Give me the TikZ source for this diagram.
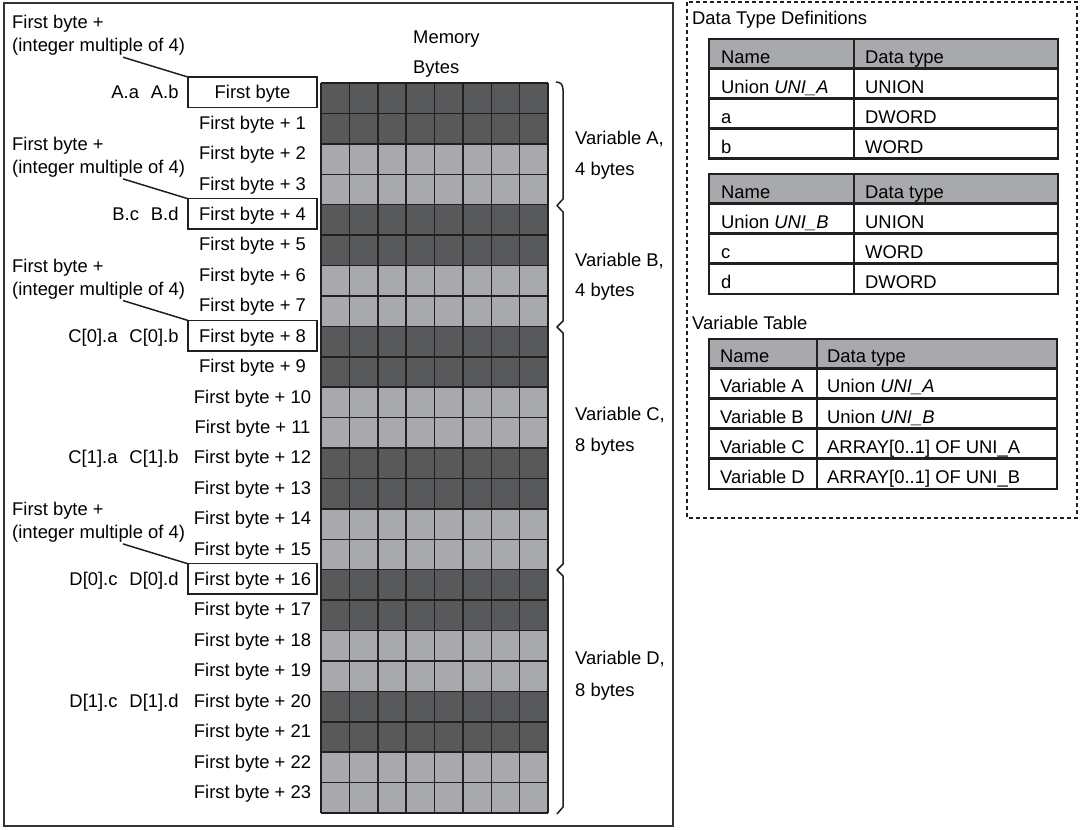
\documentclass[tikz,border=0pt]{standalone}
\usepackage{fontspec}
\setmainfont{Liberation Sans}
\usepackage{tikz}
\usetikzlibrary{calc,positioning}
\definecolor{cellDark}{HTML}{58595B}
\definecolor{cellLight}{HTML}{A7A9AC}
\definecolor{lineK}{HTML}{231F20}
\definecolor{frameC}{HTML}{333333}
\tikzset{
  txt/.style={inner sep=0pt,text height=13.2pt,text depth=0pt,font=\fontsize{18.4}{22}\selectfont},
  lbl/.style={txt,anchor=west},
  rowlbl/.style={txt,minimum width=129pt,minimum height=30pt},
  boxline/.style={draw=lineK,line width=1.5pt},
  gridline/.style={lineK,line width=1.5pt},
  frame/.style={draw=frameC,line width=2pt},
  dashbox/.style={draw=lineK,line width=2pt,dash pattern=on 4pt off 3pt},
  tabline/.style={draw=lineK,line width=2.4pt},
  callout/.style={lineK,line width=1.5pt},
  bracel/.style={lineK,line width=1.5pt,line join=round}
}

\begin{document}
\begin{tikzpicture}[x=1pt,y=-1pt]
\useasboundingbox (0,0) rectangle (1082,830);
\draw[frame] (4,3) rectangle (673,826);
\draw[dashbox] (687,2) rectangle (1077,518);
% memory bytes
\foreach \r in {0,...,23}{
  \pgfmathtruncatemacro{\q}{mod(\r,4)}
  \ifnum\q<2 \def\fc{cellDark}\else\def\fc{cellLight}\fi
  \fill[\fc] (321,{83+30.42*\r}) rectangle (548,{83+30.42*(\r+1)});
}
\foreach \c in {0,...,8} \draw[gridline] ({321+28.375*\c},83) -- ({321+28.375*\c},813);
\foreach \r in {0,...,24} \draw[gridline] (321,{83+30.42*\r}) -- (548,{83+30.42*\r});
\node[lbl] (mem) at (413,37) {Memory};
\node[lbl] (bytes) at (413,67) {Bytes};
% addresses
\foreach \k in {0,...,23}
  \node[rowlbl] (r\k) at (252.5,{92.2+30.42*\k}) {First byte\ifnum\k>0{} + \k\fi};
\foreach \k in {0,4,8,16}{
  \draw[boxline] (r\k.north west) rectangle (r\k.south east);
  \node[lbl] (cf\k) at (12,{92.2+30.42*\k-70}) {First byte +};
  \node[lbl] (cm\k) at (12,{92.2+30.42*\k-47}) {(integer multiple of 4)};
  \coordinate (k\k) at (123,{92.2+30.42*\k-35});
  \draw[callout] (k\k) -- (r\k.north west);
}
\foreach \k/\nm in {0/A.a\hspace{0.65em}A.b,4/B.c\hspace{0.65em}B.d,8/C[0].a\hspace{0.65em}C[0].b,
  12/C[1].a\hspace{0.65em}C[1].b,16/D[0].c\hspace{0.65em}D[0].d,20/D[1].c\hspace{0.65em}D[1].d}
  \node[txt,left=9pt of r\k] (f\k) {\nm};
% braces
\draw[bracel] (556,82) .. controls (561,82) and (563,85) .. (563,90) -- (563,199) -- (557,205.5)
  -- (563,212) -- (563,321) -- (557,327) -- (563,333) -- (563,564) -- (557,570)
  -- (563,576) -- (563,807) -- (557,814);
\node[lbl] (va) at (575,138) {Variable A,};
\node[lbl] (vab) at (575,169) {4 bytes};
\node[lbl] (vb) at (575,260) {Variable B,};
\node[lbl] (vbb) at (575,290) {4 bytes};
\node[lbl] (vc) at (575,414) {Variable C,};
\node[lbl] (vcb) at (575,445) {8 bytes};
\node[lbl] (vd) at (575,658) {Variable D,};
\node[lbl] (vdb) at (575,690) {8 bytes};
% data type definitions
\node[lbl] (dtd) at (692,18) {Data Type Definitions};
\fill[cellLight] (709,39) rectangle (1058,68.5);
\foreach \y in {68.5,98.5,128.5} \draw[tabline] (709,\y) -- (1058,\y);
\draw[tabline] (854,39) -- (854,158.5);
\draw[tabline] (709,39) rectangle (1058,158.5);
\foreach \i/\na/\ty in {0/Name/Data type,1/Union \textit{UNI\_A}/UNION,2/a/DWORD,3/b/WORD}{
  \node[lbl] (ua\i) at (721,{57+30*\i}) {\na};
  \node[lbl] (uat\i) at (865,{57+30*\i}) {\ty};
}
\fill[cellLight] (709,174) rectangle (1058,203.5);
\foreach \y in {203.5,233.5,263.5} \draw[tabline] (709,\y) -- (1058,\y);
\draw[tabline] (854,174) -- (854,294);
\draw[tabline] (709,174) rectangle (1058,294);
\foreach \i/\na/\ty in {0/Name/Data type,1/Union \textit{UNI\_B}/UNION,2/c/WORD,3/d/DWORD}{
  \node[lbl] (ub\i) at (721,{192+30*\i}) {\na};
  \node[lbl] (ubt\i) at (865,{192+30*\i}) {\ty};
}
% variable table
\node[lbl] (vtab) at (692,323) {Variable Table};
\fill[cellLight] (709,339) rectangle (1057,368.5);
\foreach \y in {368.5,398.5,428.5,458.5} \draw[tabline] (709,\y) -- (1057,\y);
\draw[tabline] (817,339) -- (817,489);
\draw[tabline] (709,339) rectangle (1057,489);
\foreach \i/\na/\ty in {0/Name/Data type,1/Variable A/Union \textit{UNI\_A},2/Variable B/Union \textit{UNI\_B},
  3/Variable C/ARRAY[0..1] OF UNI\_A,4/Variable D/ARRAY[0..1] OF UNI\_B}{
  \node[lbl] (vt\i) at (720,{356+30.2*\i}) {\na};
  \node[lbl] (vtt\i) at (827,{356+30.2*\i}) {\ty};
}
\end{tikzpicture}
\end{document}
